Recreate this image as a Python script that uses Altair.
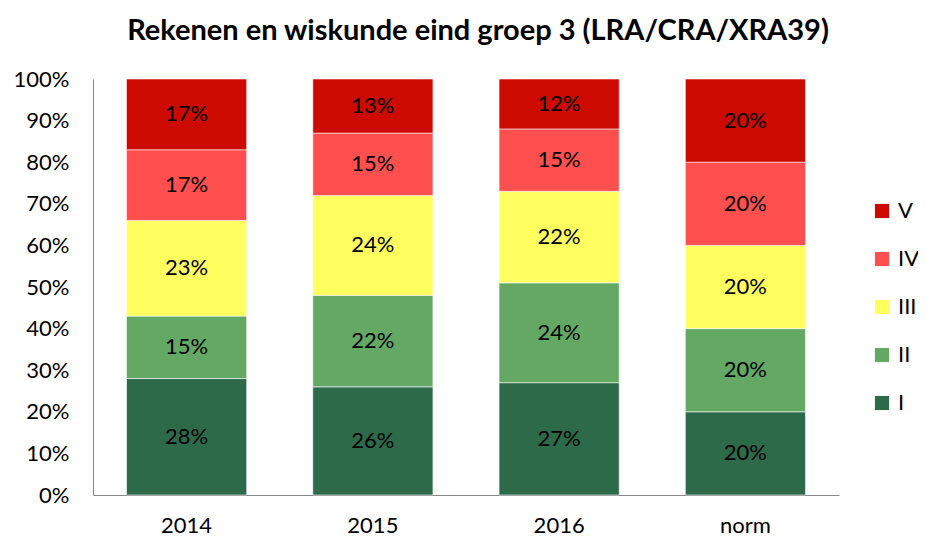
import altair as alt
import pandas as pd

years = ["2014", "2015", "2016", "norm"]
levels = ["I", "II", "III", "IV", "V"]
values = {
    "2014": [28, 15, 23, 17, 17],
    "2015": [26, 22, 24, 15, 13],
    "2016": [27, 24, 22, 15, 12],
    "norm": [20, 20, 20, 20, 20],
}
colors = {"V": "#CC0A00", "IV": "#FF4F4F", "III": "#FFFF5F", "II": "#63A963", "I": "#2D6A4A"}

rows = []
for y in years:
    for i, lv in enumerate(levels):
        rows.append({"jaar": y, "niveau": lv, "ord": i, "pct": values[y][i] / 100})
df = pd.DataFrame(rows)

legend_order = ["V", "IV", "III", "II", "I"]
FONT = "Lato"
FS = 22

base = alt.Chart(df).transform_stack(
    stack="pct", groupby=["jaar"], as_=["y0", "y1"], sort=[alt.SortField("ord", order="ascending")]
).transform_calculate(mid="(datum.y0 + datum.y1) / 2")

x_enc = alt.X("jaar:N", sort=years, title=None,
              scale=alt.Scale(paddingInner=0.355, paddingOuter=0.18),
              axis=alt.Axis(labelAngle=0, labelFontSize=FS, labelFont=FONT, labelColor="#000",
                            ticks=False, labelPadding=20, domainColor="#888"))

bars = base.mark_bar(stroke="white", strokeWidth=0.8, strokeOpacity=0.7).encode(
    x=x_enc,
    y=alt.Y("y0:Q", title=None, scale=alt.Scale(domain=[0, 1]),
            axis=alt.Axis(format=".0%", values=[i / 10 for i in range(11)], grid=False, ticks=False,
                          labelFontSize=FS, labelFont=FONT, labelColor="#000", labelPadding=24,
                          domainColor="#888")),
    y2="y1:Q",
    color=alt.Color("niveau:N", scale=alt.Scale(domain=legend_order, range=[colors[k] for k in legend_order]),
                    legend=alt.Legend(title=None, orient="none", legendX=778, legendY=121,
                                      labelFontSize=FS, labelFont=FONT,
                                      symbolType="square", symbolSize=200, rowPadding=26,
                                      symbolStrokeWidth=0, labelColor="#000", labelOffset=5)),
)

labels = base.mark_text(fontSize=FS, font=FONT, color="#000").encode(
    x=alt.X("jaar:N", sort=years),
    y=alt.Y("mid:Q"),
    text=alt.Text("pct:Q", format=".0%"),
)

chart = alt.layer(bars, labels).properties(
    width=746, height=416,
    title=alt.TitleParams("Rekenen en wiskunde eind groep 3 (LRA/CRA/XRA39)", fontSize=29, font=FONT,
                          fontWeight="bold", color="#000", anchor="middle", offset=22, dx=12),
    autosize=alt.AutoSizeParams(type="none"),
    padding={"left": 85, "top": 71, "right": 79, "bottom": 46},
).configure_view(stroke=None)

chart.save("out.html", embed_options={"renderer": "svg", "actions": False})
